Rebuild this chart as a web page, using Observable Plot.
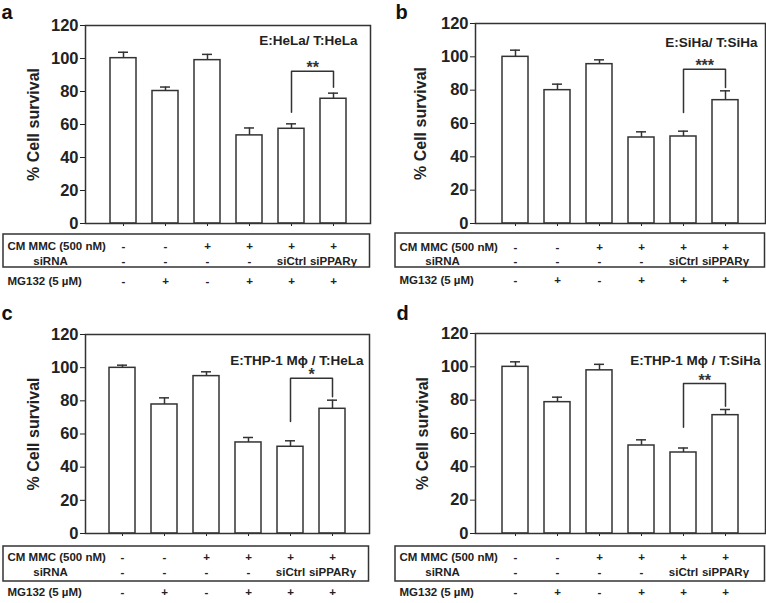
<!DOCTYPE html>
<html><head><meta charset="utf-8">
<script src="https://cdn.jsdelivr.net/npm/d3@7"></script>
<script src="https://cdn.jsdelivr.net/npm/@observablehq/plot@0.6"></script>
<style>
html,body{margin:0;padding:0;background:#fff}
body{width:766px;height:603px;position:relative;overflow:hidden}
.panel{position:absolute}
.panel svg{max-width:none}
</style></head><body>
<div id="pa" class="panel"></div>
<div id="pb" class="panel"></div>
<div id="pc" class="panel"></div>
<div id="pd" class="panel"></div>
<script>
// ---------- data ----------
const categories = ["Ctrl", "MG132", "CM MMC", "CM MMC+MG132", "CM MMC+MG132+siCtrl", "CM MMC+MG132+siPPARγ"];
const yTicks = [0, 20, 40, 60, 80, 100, 120];
const rowLabels = ["CM MMC (500 nM)", "siRNA", "MG132 (5 µM)"];
const rowCM = ["-", "-", "+", "+", "+", "+"];
const rowSiRNA = ["-", "-", "-", "-", "siCtrl", "siPPARγ"];
const rowMG = ["-", "+", "-", "+", "+", "+"];
const panelLetters = ["a", "b", "c", "d"];
const panelTitles = ["E:HeLa/ T:HeLa", "E:SiHa/ T:SiHa", "E:THP-1 Mϕ / T:HeLa", "E:THP-1 Mϕ / T:SiHa"];
const yLabel = "% Cell survival";

const survivalA = [100.2, 80.3, 99.0, 53.4, 57.4, 75.6];
const errorA    = [3.6, 2.4, 3.5, 4.5, 3.0, 3.4];
const survivalB = [100.0, 80.0, 95.6, 51.6, 52.2, 74.0];
const errorB    = [4.0, 3.6, 2.6, 3.4, 3.2, 5.6];
const survivalC = [99.9, 77.8, 94.9, 54.9, 52.3, 75.2];
const errorC    = [1.6, 4.0, 2.6, 3.0, 3.6, 5.2];
const survivalD = [100.0, 78.8, 97.9, 52.8, 48.6, 71.0];
const errorD    = [3.0, 3.0, 3.6, 3.4, 2.7, 3.4];

// bracket: [left leg bottom, top, right leg bottom] between groups 5 and 6
const bracketA = [67.5, 92.3, 82.6];
const bracketB = [66.6, 92.6, 81.6];
const bracketC = [67.5, 93.6, 82.5];
const bracketD = [63.7, 90.0, 76.4];
const starsA = "**", starsB = "***", starsC = "*", starsD = "**";

// ---------- layout ----------
const layouts = [
  {id: "pa", left: 0,   top: 0,   width: 383, height: 300, mL: 85, mR: 13, mT: 25, mB: 77, po: 0.54, boxLeft: 3,
   titleDx: -13, titleDy: 15, letterX: 1, letterTop: 4, ylabDx: -52, tab: [11, 44, 23, 38, 58]},
  {id: "pb", left: 383, top: 0,   width: 383, height: 300, mL: 92, mR: 1,  mT: 23, mB: 77, po: 0.61, boxLeft: 12,
   titleDx: -8, titleDy: 19, letterX: 12, letterTop: 4, ylabDx: -55, tab: [10, 44, 24, 38, 57]},
  {id: "pc", left: 0,   top: 300, width: 383, height: 303, mL: 85, mR: 14, mT: 34, mB: 70, po: 0.54, boxLeft: 3,
   titleDx: -6, titleDy: 26, letterX: 1, letterTop: 5.5, ylabDx: -52, tab: [13, 48, 24, 39, 59]},
  {id: "pd", left: 383, top: 300, width: 383, height: 303, mL: 92, mR: 1,  mT: 33, mB: 70, po: 0.61, boxLeft: 12,
   titleDx: -5, titleDy: 27, letterX: 13, letterTop: 5.5, ylabDx: -53, tab: [13, 48, 24, 39, 59]}
];
const series = [
  [survivalA, errorA, bracketA, starsA],
  [survivalB, errorB, bracketB, starsB],
  [survivalC, errorC, bracketC, starsC],
  [survivalD, errorD, bracketD, starsD]
];

const INK = "#333";
const SW = 1.5;
const FONT = "'Liberation Sans', Arial, Helvetica, sans-serif";
const paddingInner = 0.39;
const TAB_FS = 11.5;

layouts.forEach((L, i) => {
  const [vals, errs, br, stars] = series[i];
  const data = categories.map((c, j) => ({cat: c, v: vals[j], top: vals[j] + errs[j],
    cm: rowCM[j], si: rowSiRNA[j], mg: rowMG[j]}));
  const bracket = [
    {cat: categories[4], y: br[0]},
    {cat: categories[4], y: br[1]},
    {cat: categories[5], y: br[1]},
    {cat: categories[5], y: br[2]}
  ];
  const plotW = L.width - L.mL - L.mR;
  const step = plotW / (categories.length - paddingInner + 2 * L.po);
  const [bt, bb, r1, r2, r3] = L.tab;

  const chart = Plot.plot({
    width: L.width, height: L.height,
    marginLeft: L.mL, marginRight: L.mR, marginTop: L.mT, marginBottom: L.mB,
    style: {fontFamily: FONT, fontWeight: "bold", fontSize: "16.5px", color: "#222", background: "transparent"},
    x: {domain: categories, paddingInner, paddingOuter: L.po, tickSize: 3, tickFormat: () => "", label: null},
    y: {domain: [0, 120], ticks: yTicks, tickSize: 5, tickPadding: 2, label: null},
    marks: [
      Plot.barY(data, {x: "cat", y: "v", fill: "white", stroke: INK, strokeWidth: SW}),
      Plot.ruleX(data, {x: "cat", y1: "v", y2: "top", stroke: INK, strokeWidth: SW}),
      Plot.tickY(data, {x: "cat", y: "top", stroke: INK, strokeWidth: SW, insetLeft: 8, insetRight: 8}),
      Plot.line(bracket, {x: "cat", y: "y", stroke: INK, strokeWidth: SW}),
      Plot.text([stars], {x: () => categories[4], y: () => br[1], text: d => d, dx: step / 2, dy: -3,
        fontSize: 16, fill: "#333", lineAnchor: "middle"}),
      Plot.frame({stroke: INK, strokeWidth: SW}),
      Plot.text([panelTitles[i]], {frameAnchor: "top-right", text: d => d, dx: L.titleDx, dy: L.titleDy,
        textAnchor: "end", lineAnchor: "middle", fontSize: 13.5, fill: "#222"}),
      Plot.text([panelLetters[i]], {frameAnchor: "top-left", text: d => d, dx: L.letterX - L.mL, dy: L.letterTop - L.mT,
        textAnchor: "start", lineAnchor: "top", fontSize: 20, fill: "#111"}),
      Plot.text([yLabel], {frameAnchor: "left", text: d => d, dx: L.ylabDx, rotate: -90,
        textAnchor: "middle", lineAnchor: "middle", fontSize: 16, fill: "#222"}),
      // table columns
      Plot.text(data, {x: "cat", frameAnchor: "bottom", text: "cm", dy: r1, lineAnchor: "middle", fontSize: TAB_FS, fill: "#222"}),
      Plot.text(data, {x: "cat", frameAnchor: "bottom", text: "si", dy: r2, lineAnchor: "middle", fontSize: TAB_FS, fill: "#222"}),
      Plot.text(data, {x: "cat", frameAnchor: "bottom", text: "mg", dy: r3, lineAnchor: "middle", fontSize: TAB_FS, fill: "#222"}),
      // table row labels
      Plot.text([rowLabels[0]], {frameAnchor: "bottom-left", text: d => d, dx: L.boxLeft + 4 - L.mL, dy: r1,
        textAnchor: "start", lineAnchor: "middle", fontSize: TAB_FS, fill: "#222"}),
      Plot.text([rowLabels[1]], {frameAnchor: "bottom-left", text: d => d, dx: L.boxLeft + 47 - L.mL, dy: r2,
        textAnchor: "middle", lineAnchor: "middle", fontSize: TAB_FS, fill: "#222"}),
      Plot.text([rowLabels[2]], {frameAnchor: "bottom-left", text: d => d, dx: L.boxLeft + 4 - L.mL, dy: r3,
        textAnchor: "start", lineAnchor: "middle", fontSize: TAB_FS, fill: "#222"})
    ]
  });
  // box around the first two table rows
  d3.select(chart).append("rect")
    .attr("x", L.boxLeft)
    .attr("y", L.height - L.mB + bt)
    .attr("width", L.width - L.mR - L.boxLeft - 0.5)
    .attr("height", bb - bt)
    .attr("fill", "none").attr("stroke", INK).attr("stroke-width", SW);
  const div = document.getElementById(L.id);
  div.style.left = L.left + "px";
  div.style.top = L.top + "px";
  div.style.width = L.width + "px";
  div.style.height = L.height + "px";
  div.appendChild(chart);
});
</script>
</body></html>
